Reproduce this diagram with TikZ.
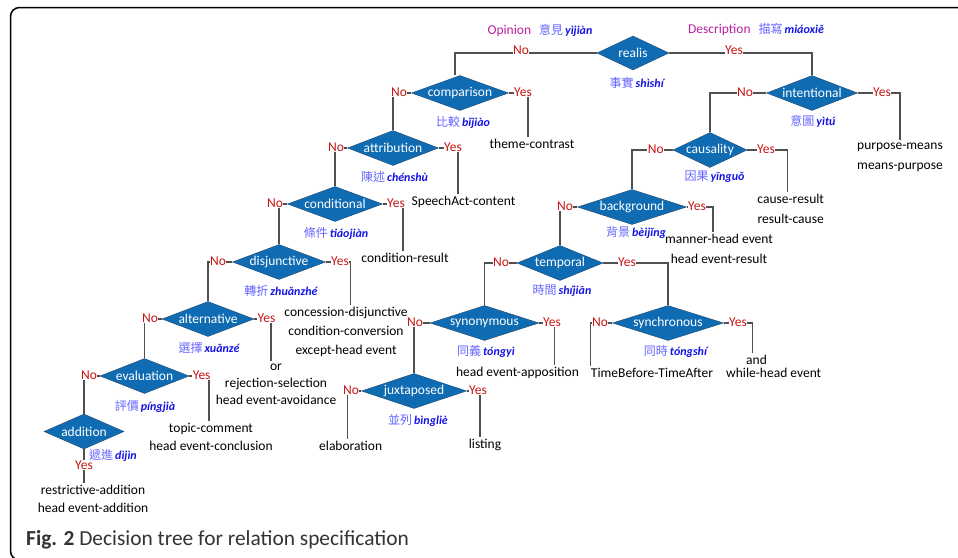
\documentclass[tikz,border=0pt]{standalone}
\usepackage{fontspec}
\setmainfont{Carlito}
\newfontfamily\cjk{Noto Sans CJK TC}
\usepackage{tikz}
\usetikzlibrary{shapes.geometric}

\definecolor{decfill}{RGB}{16,108,178}
\definecolor{decline}{RGB}{30,70,110}
\definecolor{edgegray}{RGB}{80,80,80}
\definecolor{ansred}{RGB}{200,20,20}
\definecolor{cjkblue}{RGB}{100,100,255}
\definecolor{pyblue}{RGB}{20,20,230}
\definecolor{headpink}{RGB}{190,30,160}
\newcommand{\gloss}[2]{{\color{cjkblue}\cjk #1}\,{\color{pyblue}\bfseries\itshape #2}}

\begin{document}
\begin{tikzpicture}[
  x=1pt, y=-1pt,
  dec/.style={diamond, aspect=3, draw=decline, fill=decfill, inner sep=0pt, minimum height=35pt, label={[dectext]center:#1}},
  dectext/.style={text=white, font=\fontsize{13.5}{15}\selectfont},
  leaf/.style={align=center, inner sep=2pt, font=\fontsize{13.5}{19}\selectfont},
  gloss/.style={inner sep=1pt, font=\fontsize{12}{14}\selectfont},
  head/.style={inner sep=1pt, font=\fontsize{13.5}{15}\selectfont},
  ans/.style={fill=white, inner sep=0.5pt, text=ansred, font=\fontsize{13.5}{15}\selectfont},
  edge/.style={draw=edgegray, line width=1.2pt}
]
\useasboundingbox (0,0) rectangle (958,557);
\draw[line width=1.5pt, rounded corners=9pt] (962,7.5) -| (10.5,560) -- (40,560);

% decision nodes
\node[dec=realis, minimum width=72pt, minimum height=34pt] (realis) at (633,53) {};
\node[dec=intentional, minimum width=91pt] (intentional) at (812,93) {};
\node[dec=comparison, minimum width=97pt] (comparison) at (460,93) {};
\node[dec=attribution, minimum width=91pt] (attribution) at (393,148) {};
\node[dec=conditional, minimum width=95pt] (conditional) at (335,204) {};
\node[dec=disjunctive, minimum width=93pt] (disjunctive) at (279,262) {};
\node[dec=alternative, minimum width=92pt] (alternative) at (208,319) {};
\node[dec=evaluation, minimum width=89pt] (evaluation) at (144.5,376) {};
\node[dec=addition, minimum width=80pt] (addition) at (84,431.5) {};
\node[dec=causality, minimum width=74pt] (causality) at (710,150) {};
\node[dec=background, minimum width=109pt] (background) at (632,207) {};
\node[dec=temporal, minimum width=86pt] (temporal) at (560,263) {};
\node[dec=synonymous, minimum width=109pt] (synonymous) at (484.5,323) {};
\node[dec=synchronous, minimum width=111pt] (synchronous) at (668,323) {};
\node[dec=juxtaposed, minimum width=105pt] (juxtaposed) at (414,391) {};

% glosses
\node[head] (opinion) at (540,30) {{\color{headpink}Opinion}\hspace{8pt}{\fontsize{12}{14}\selectfont\gloss{意見}{yìjiàn}}};
\node[head] (description) at (756,30) {{\color{headpink}Description}\hspace{8pt}{\fontsize{12}{14}\selectfont\gloss{描寫}{miáoxiě}}};
\node[gloss] (g-realis) at (636.7,82.7) {\gloss{事實}{shìshí}};
\node[gloss] (g-intentional) at (813,121.7) {\gloss{意圖}{yìtú}};
\node[gloss] (g-comparison) at (463,122) {\gloss{比較}{bǐjiào}};
\node[gloss] (g-attribution) at (394.5,176.7) {\gloss{陳述}{chénshù}};
\node[gloss] (g-conditional) at (336,233) {\gloss{條件}{tiáojiàn}};
\node[gloss] (g-disjunctive) at (281,290.7) {\gloss{轉折}{zhuǎnzhé}};
\node[gloss] (g-alternative) at (209,348) {\gloss{選擇}{xuǎnzé}};
\node[gloss] (g-evaluation) at (145,406) {\gloss{評價}{píngjià}};
\node[gloss] (g-addition) at (113,455.7) {\gloss{遞進}{dìjìn}};
\node[gloss] (g-causality) at (714.5,176.7) {\gloss{因果}{yīnguǒ}};
\node[gloss] (g-background) at (636,232) {\gloss{背景}{bèijǐng}};
\node[gloss] (g-temporal) at (562,290.7) {\gloss{時間}{shíjiān}};
\node[gloss] (g-synonymous) at (486,351.7) {\gloss{同義}{tóngyì}};
\node[gloss] (g-synchronous) at (675.5,351.7) {\gloss{同時}{tóngshí}};
\node[gloss] (g-juxtaposed) at (418,420) {\gloss{並列}{bìngliè}};

% relations
\node[leaf] (lf-theme) at (532,144) {theme-contrast};
\node[leaf] (lf-speech) at (463.5,201.7) {SpeechAct-content};
\node[leaf] (lf-condres) at (405,257.7) {condition-result};
\node[leaf] (lf-concession) at (346,331.6) {concession-disjunctive\\condition-conversion\\except-head event};
\node[leaf, font=\fontsize{13.5}{17}\selectfont] (lf-rejection) at (276,384) {or\\rejection-selection\\head event-avoidance};
\node[leaf, font=\fontsize{13.5}{18.5}\selectfont] (lf-topic) at (211,437) {topic-comment\\head event-conclusion};
\node[leaf, font=\fontsize{13.5}{18.3}\selectfont] (lf-restrictive) at (93,499) {restrictive-addition\\head event-addition};
\node[leaf] (lf-elaboration) at (350.7,446) {elaboration};
\node[leaf] (lf-listing) at (485,445) {listing};
\node[leaf] (lf-apposition) at (517.5,372.7) {head event-apposition};
\node[leaf] (lf-timebefore) at (652,372.7) {TimeBefore-TimeAfter};
\node[leaf, align=left, anchor=west, font=\fontsize{13.5}{13}\selectfont] (lf-while) at (724,366.5) {\hspace*{20pt}and\\while-head event};
\node[leaf, font=\fontsize{13.5}{20}\selectfont] (lf-manner) at (719,249) {manner-head event\\head event-result};
\node[leaf, font=\fontsize{13.5}{20}\selectfont] (lf-cause) at (790.7,209) {cause-result\\result-cause};
\node[leaf, font=\fontsize{13.5}{20}\selectfont] (lf-purpose) at (900,157) {purpose-means\\means-purpose};

% branches
\draw[edge] (realis.west) -| ([xshift=-5pt]comparison.north);
\draw[edge] (realis.east) -| (intentional.north);
\draw[edge] (intentional.west) -| (causality.north);
\draw[edge] (intentional.east) -| (lf-purpose.north);
\draw[edge] (comparison.west) -| (attribution.north);
\draw[edge] (comparison.east) -| ([xshift=-4pt]lf-theme.north);
\draw[edge] (attribution.west) -| (conditional.north);
\draw[edge] (attribution.east) -| ([xshift=-5.5pt]lf-speech.north);
\draw[edge] (conditional.west) -| (disjunctive.north);
\draw[edge] (conditional.east) -| ([xshift=-2pt]lf-condres.north);
\draw[edge] (disjunctive.west) -| (alternative.north);
\draw[edge] (disjunctive.east) -| ([xshift=4.7pt]lf-concession.north);
\draw[edge] (alternative.west) -| (evaluation.north);
\draw[edge] (alternative.east) -| ([xshift=-5pt]lf-rejection.north);
\draw[edge] (evaluation.west) -| (addition.north);
\draw[edge] (evaluation.east) -| ([xshift=-2pt]lf-topic.north);
\draw[edge] (addition.south) -- (addition.south |- lf-restrictive.north);
\draw[edge] (causality.west) -| (background.north);
\draw[edge] (causality.east) -| ([xshift=-3.5pt]lf-cause.north);
\draw[edge] (background.west) -| (temporal.north);
\draw[edge] (background.east) -| ([xshift=-6pt]lf-manner.north);
\draw[edge] (temporal.west) -| (synonymous.north);
\draw[edge] (temporal.east) -| (synchronous.north);
\draw[edge] (synonymous.west) -| (juxtaposed.north);
\draw[edge] (synonymous.east) -| ([xshift=37pt]lf-apposition.north);
\draw[edge] (synchronous.west) -| ([xshift=2pt]lf-timebefore.north west);
\draw[edge] (synchronous.east) -| ([xshift=28.7pt]lf-while.north west);
\draw[edge] (juxtaposed.west) -| ([xshift=-3.4pt]lf-elaboration.north);
\draw[edge] (juxtaposed.east) -| ([xshift=-5pt]lf-listing.north);

% answers
\node[ans] (no-realis) at (521,50.5) {No};
\node[ans] (yes-realis) at (734,50.5) {Yes};
\node[ans] (no-intentional) at (745,92) {No};
\node[ans] (yes-intentional) at (882,92) {Yes};
\node[ans] (no-comparison) at (399,92) {No};
\node[ans] (yes-comparison) at (523,92) {Yes};
\node[ans] (no-attribution) at (336,147) {No};
\node[ans] (yes-attribution) at (453,147) {Yes};
\node[ans] (no-conditional) at (275,203) {No};
\node[ans] (yes-conditional) at (396,203) {Yes};
\node[ans] (no-disjunctive) at (218,261) {No};
\node[ans] (yes-disjunctive) at (340,261) {Yes};
\node[ans] (no-alternative) at (150,318) {No};
\node[ans] (yes-alternative) at (266.5,318) {Yes};
\node[ans] (no-evaluation) at (89,375) {No};
\node[ans] (yes-evaluation) at (201.7,375) {Yes};
\node[ans] (yes-addition) at (84,465) {Yes};
\node[ans] (no-causality) at (655.7,149) {No};
\node[ans] (yes-causality) at (766,149) {Yes};
\node[ans] (no-background) at (565,206) {No};
\node[ans] (yes-background) at (697,206) {Yes};
\node[ans] (no-temporal) at (501,262) {No};
\node[ans] (yes-temporal) at (627,262) {Yes};
\node[ans] (no-synonymous) at (415,322) {No};
\node[ans] (yes-synonymous) at (552,322) {Yes};
\node[ans] (no-synchronous) at (600,322) {No};
\node[ans] (yes-synchronous) at (738,322) {Yes};
\node[ans] (no-juxtaposed) at (351,390) {No};
\node[ans] (yes-juxtaposed) at (478,390) {Yes};

\node[anchor=base west, inner sep=0pt, font=\fontsize{21.4}{25}\selectfont, text={black!80}] (caption) at (26,545) {\textbf{Fig. 2} Decision tree for relation specification};
\end{tikzpicture}
\end{document}
